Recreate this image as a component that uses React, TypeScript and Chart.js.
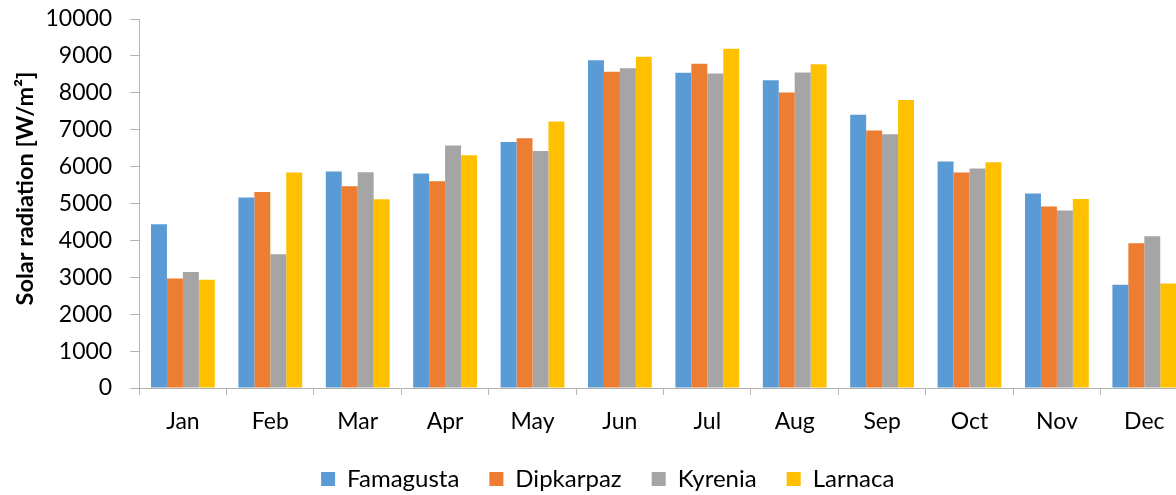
import React, { useEffect, useRef } from "react";
import { Chart, registerables } from "chart.js";

Chart.register(...registerables);

const months = ["Jan", "Feb", "Mar", "Apr", "May", "Jun", "Jul", "Aug", "Sep", "Oct", "Nov", "Dec"];
const famagusta = [4440, 5160, 5870, 5815, 6665, 8885, 8540, 8340, 7405, 6140, 5270, 2800];
const dipkarpaz = [2965, 5315, 5470, 5605, 6765, 8570, 8785, 8005, 6975, 5840, 4920, 3920];
const kyrenia = [3145, 3625, 5850, 6575, 6420, 8665, 8520, 8550, 6875, 5950, 4810, 4110];
const larnaca = [2935, 5840, 5115, 6305, 7225, 8975, 9195, 8775, 7805, 6115, 5120, 2835];
const yTitle = "Solar radiation [W/m²]";

const FONT = "Lato, 'Open Sans', sans-serif";

const yTitlePlugin = {
  id: "yTitlePlugin",
  afterDraw(chart: any) {
    const { ctx, chartArea } = chart;
    ctx.save();
    ctx.font = `bold 23.5px ${FONT}`;
    ctx.fillStyle = "#000";
    ctx.textAlign = "center";
    ctx.textBaseline = "middle";
    ctx.translate(25, (chartArea.top + chartArea.bottom) / 2 - 15);
    ctx.rotate(-Math.PI / 2);
    ctx.fillText(yTitle, 0, 0);
    ctx.restore();
  },
};

// pull the legend a little closer to the category labels
const legendShiftPlugin = {
  id: "legendShiftPlugin",
  afterLayout(chart: any) {
    const lg = chart.legend;
    if (lg) {
      lg.top -= 12;
      lg.bottom -= 12;
    }
  },
};

export default function App() {
  const ref = useRef<HTMLCanvasElement | null>(null);
  useEffect(() => {
    if (!ref.current) return;
    const axisColor = "#b3b3b3";
    const mk = (label: string, data: number[], color: string) => ({
      label,
      data,
      backgroundColor: color,
      borderWidth: 0,
      barPercentage: 1,
      categoryPercentage: 0.73,
    });
    const chart = new Chart(ref.current, {
      type: "bar",
      data: {
        labels: months,
        datasets: [
          mk("Famagusta", famagusta, "#5B9BD5"),
          mk("Dipkarpaz", dipkarpaz, "#ED7D31"),
          mk("Kyrenia", kyrenia, "#A5A5A5"),
          mk("Larnaca", larnaca, "#FFC000"),
        ],
      },
      plugins: [yTitlePlugin, legendShiftPlugin],
      options: {
        responsive: false,
        animation: false,
        layout: { padding: { left: 27.5, right: 12, top: 0, bottom: 0 } },
        plugins: {
          tooltip: { enabled: false },
          legend: {
            position: "bottom",
            labels: {
              boxWidth: 14,
              boxHeight: 14,
              padding: 30,
              color: "#000",
              font: { family: FONT, size: 24 },
            },
          },
        },
        scales: {
          x: {
            border: { display: true, color: axisColor, width: 1 },
            grid: { drawOnChartArea: false, drawTicks: true, tickLength: 7, color: axisColor, offset: true },
            ticks: {
              color: "#000",
              font: { family: FONT, size: 23 },
              padding: 13.2,
              maxRotation: 0,
            },
          },
          y: {
            min: 0,
            max: 10000,
            border: { display: true, color: axisColor, width: 1 },
            grid: { drawOnChartArea: false, drawTicks: true, tickLength: 9, color: axisColor },
            ticks: {
              stepSize: 1000,
              color: "#000",
              font: { family: FONT, size: 23, lineHeight: "2px" },
              padding: 18,
              callback: (v: any) => String(v),
            },
          },
        },
      },
    });
    return () => chart.destroy();
  }, []);
  return (
    <div style={{ position: "fixed", left: 0, top: 0, width: 1176, height: 495, overflow: "hidden", background: "#fff" }}>
      <canvas ref={ref} width={1200} height={513} style={{ width: 1200, height: 513, display: "block" }} />
    </div>
  );
}
